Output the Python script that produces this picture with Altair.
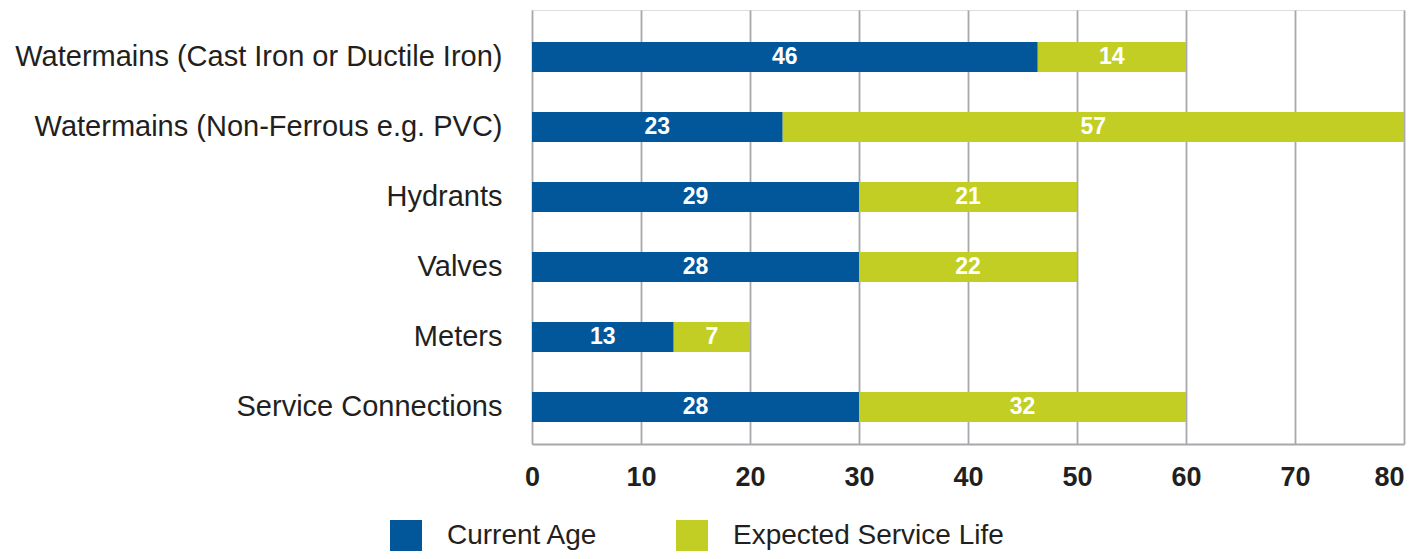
import altair as alt
import pandas as pd

categories = [
    "Watermains (Cast Iron or Ductile Iron)",
    "Watermains (Non-Ferrous e.g. PVC)",
    "Hydrants",
    "Valves",
    "Meters",
    "Service Connections",
]
series_names = ["Current Age", "Expected Service Life"]

# bar lengths as drawn
current_age = [46.4, 23, 30, 30, 13, 30]
remaining_life = [13.6, 57, 20, 20, 7, 30]
# value labels as printed on the bars
current_age_labels = ["46", "23", "29", "28", "13", "28"]
remaining_life_labels = ["14", "57", "21", "22", "7", "32"]

x_ticks = [0, 10, 20, 30, 40, 50, 60, 70, 80]
colors = ["#02579a", "#c2ce23"]

rows = []
for i, c in enumerate(categories):
    rows.append({"category": c, "series": series_names[0], "value": current_age[i],
                 "label": current_age_labels[i], "ord": 0})
    rows.append({"category": c, "series": series_names[1], "value": remaining_life[i],
                 "label": remaining_life_labels[i], "ord": 1})
df = pd.DataFrame(rows)

FONT = "Liberation Sans"
GRAY = "#a8a8ac"
TXT = "#231f20"

base = alt.Chart(df).transform_stack(
    stack="value", groupby=["category"], as_=["x0", "x1"],
    sort=[alt.SortField("ord", order="ascending")],
).transform_calculate(mid="(datum.x0 + datum.x1) / 2")

yenc = alt.Y(
    "category:N", sort=categories, title=None,
    scale=alt.Scale(paddingInner=0.5714, paddingOuter=0.3857, align=0.593),
    axis=alt.Axis(labelFont=FONT, labelFontSize=29, labelColor=TXT, labelPadding=30,
                  ticks=False, domain=False, grid=False, labelLimit=600),
)

bars = base.mark_bar(stroke=None).encode(
    x=alt.X("x0:Q", title=None,
            scale=alt.Scale(domain=[0, 80], nice=False, zero=True),
            axis=alt.Axis(values=x_ticks, labelFont=FONT, labelFontSize=27,
                          labelFontWeight="bold", labelColor=TXT, labelPadding=20,
                          ticks=False, domain=True, domainColor=GRAY, domainWidth=1.8,
                          grid=True, gridColor=GRAY, gridWidth=1.8,
                          labelAlign={"condition": {"test": "datum.value == 80", "value": "right"},
                                      "value": "center"})),
    x2="x1:Q",
    y=yenc,
    color=alt.Color("series:N", sort=series_names,
                    scale=alt.Scale(domain=series_names, range=colors),
                    legend=alt.Legend(title=None, orient="none", direction="horizontal",
                                      legendX=-142, legendY=510,
                                      symbolType="square", symbolSize=1024,
                                      symbolStrokeWidth=0, symbolOpacity=1,
                                      labelFont=FONT, labelFontSize=28, labelColor=TXT,
                                      labelOffset=25, columnPadding=78, labelLimit=500)),
)

texts = base.mark_text(font=FONT, fontSize=23, fontWeight="bold", color="white",
                       align="center", baseline="middle").encode(
    x=alt.X("mid:Q"),
    y=alt.Y("category:N", sort=categories),
    text="label:N",
)

chart = alt.layer(bars, texts).properties(
    width=872, height=434,
    autosize=alt.AutoSizeParams(type="none"),
    padding={"left": 524, "top": 2, "right": 5, "bottom": 107},
).configure_view(stroke=None).configure(background="white")

chart.save("out.html", embed_options={"renderer": "svg", "actions": False})
